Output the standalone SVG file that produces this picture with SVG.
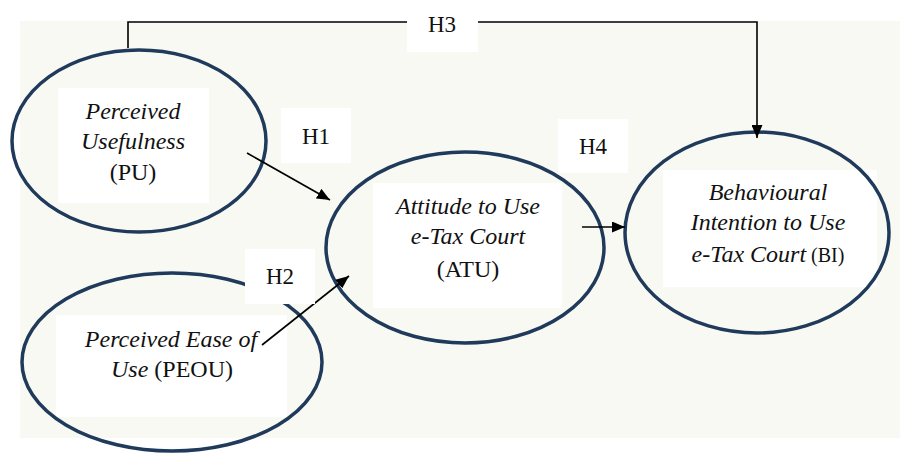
<svg xmlns="http://www.w3.org/2000/svg" width="900" height="453" viewBox="0 0 900 453">
<defs>
<style>
.bg{fill:#f9f9f3}
.box{fill:#ffffff}
.ell{fill:none;stroke:#1f3a5a;stroke-width:3.5}
.con{fill:none;stroke:#000;stroke-width:1.6}
text{font-family:'Liberation Serif','Times New Roman','DejaVu Serif',serif;fill:#111;text-anchor:middle}
.t{font-size:24px}
.i{font-style:italic}
.h{font-size:23px}
</style>
<marker id="arr" markerUnits="userSpaceOnUse" markerWidth="13" markerHeight="11" refX="13" refY="5.5" orient="auto">
<path d="M0,0 L13,5.5 L0,11 z" fill="#000"/>
</marker>
</defs>
<rect x="0" y="0" width="900" height="453" fill="#ffffff"/>
<rect class="bg" x="20" y="21" width="880" height="417"/>

<g id="node-PU">
<rect class="box" x="58" y="88" width="151" height="115"/>
<ellipse class="ell" cx="139" cy="141" rx="127" ry="91"/>
<text class="t i" x="133" y="119" font-family="Liberation Serif, serif">Perceived</text>
<text class="t i" x="133" y="149" font-family="Liberation Serif, serif">Usefulness</text>
<text class="t" x="133" y="180" font-family="Liberation Serif, serif">(PU)</text>
</g>

<g id="node-PEOU">
<rect class="box" x="56" y="315" width="231" height="102"/>
<ellipse class="ell" cx="172" cy="362" rx="150" ry="89"/>
<text class="t" x="171" y="347" font-family="Liberation Serif, serif"><tspan font-style="italic">Perceived Ease of</tspan></text>
<text class="t" x="172" y="377" font-family="Liberation Serif, serif"><tspan font-style="italic">Use</tspan> (PEOU)</text>
</g>

<g id="node-ATU">
<rect class="box" x="373" y="183" width="189" height="125"/>
<ellipse class="ell" cx="465" cy="247.5" rx="139" ry="95.5"/>
<text class="t i" x="468" y="214" font-family="Liberation Serif, serif">Attitude to Use</text>
<text class="t i" x="468" y="244" font-family="Liberation Serif, serif">e-Tax Court</text>
<text class="t" x="468" y="277" font-family="Liberation Serif, serif">(ATU)</text>
</g>

<g id="node-BI">
<rect class="box" x="663" y="170" width="214" height="117"/>
<ellipse class="ell" cx="757" cy="232.5" rx="132" ry="100.5"/>
<text class="t i" x="768" y="200" font-family="Liberation Serif, serif">Behavioural</text>
<text class="t i" x="768" y="230" font-family="Liberation Serif, serif">Intention to Use</text>
<text class="t" x="768" y="262" font-family="Liberation Serif, serif"><tspan font-style="italic">e-Tax Court</tspan><tspan font-size="20"> (BI)</tspan></text>
</g>

<g id="connectors">
<path class="con" d="M128,48 V22 H757 V138" marker-end="url(#arr)"/>
<line class="con" x1="247" y1="153" x2="330" y2="200" marker-end="url(#arr)"/>
<line class="con" x1="262" y1="345" x2="349" y2="276" marker-end="url(#arr)"/>
<line class="con" x1="582" y1="227" x2="625" y2="227" marker-end="url(#arr)"/>
</g>

<g id="label-H1">
<rect class="box" x="281" y="108" width="70" height="55"/>
<text class="h" x="316" y="144" font-family="Liberation Serif, serif">H1</text>
</g>
<g id="label-H2">
<rect class="box" x="245" y="249" width="70" height="55"/>
<text class="h" x="280" y="284" font-family="Liberation Serif, serif">H2</text>
</g>
<g id="label-H3">
<rect class="box" x="407" y="0" width="71" height="52"/>
<text class="h" x="442" y="32" font-family="Liberation Serif, serif">H3</text>
</g>
<g id="label-H4">
<rect class="box" x="558" y="119" width="70" height="54"/>
<text class="h" x="593" y="154" font-family="Liberation Serif, serif">H4</text>
</g>
</svg>
